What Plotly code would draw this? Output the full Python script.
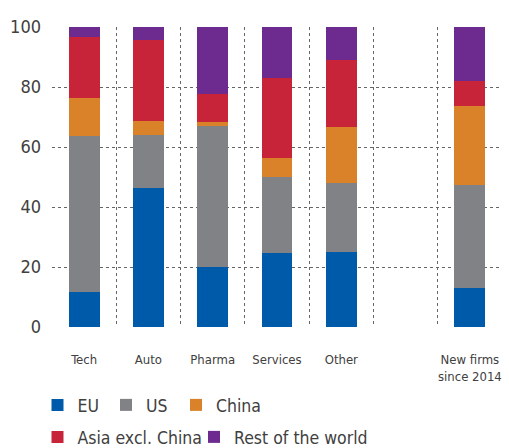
import plotly.graph_objects as go

categories = ["Tech", "Auto", "Pharma", "Services", "Other", "", "New firms<br>since 2014"]
bar_pos = [0, 1, 2, 3, 4, 6]
eu = [11.8, 46.4, 20.1, 24.8, 25.1, 13.1]
us = [51.8, 17.7, 47.0, 25.3, 22.8, 34.3]
china = [12.7, 4.7, 1.3, 6.3, 18.9, 26.4]
asia = [20.3, 27.0, 9.4, 26.7, 22.3, 8.3]
row = [3.4, 4.2, 22.2, 16.9, 10.9, 17.9]
yticks = [0, 20, 40, 60, 80, 100]

series = [
    ("EU", eu, "#005AAA"),
    ("US", us, "#818286"),
    ("China", china, "#D98229"),
    ("Asia excl. China", asia, "#C7243A"),
    ("Rest of the world", row, "#6D2B8F"),
]
# legend placement (pixels in the 509x448 figure)
legend_pos = [(37.5, 405), (106, 405), (176, 405), (37.5, 437), (194, 437)]

FONT = "DejaVu Sans Condensed, Liberation Sans Narrow, sans-serif"

fig = go.Figure()
legend_layout = {}
for i, ((name, vals, col), (lx, ly)) in enumerate(zip(series, legend_pos)):
    key = "legend" if i == 0 else f"legend{i + 1}"
    fig.add_trace(go.Bar(x=bar_pos, y=vals, name=name,
                         marker=dict(color=col, line=dict(width=0)),
                         legend=key, width=0.48))
    legend_layout[key] = dict(orientation="h", xref="container", yref="container",
                              x=lx / 509, y=1 - ly / 448, xanchor="left", yanchor="middle",
                              font=dict(size=17.5, color="#404040"), itemwidth=30,
                              bgcolor="rgba(0,0,0,0)")

fig.update_layout(
    barmode="stack",
    width=509, height=448,
    margin=dict(l=52, r=7, t=27, b=121, autoexpand=False),
    paper_bgcolor="white", plot_bgcolor="white",
    font=dict(family=FONT, color="#404040"),
    xaxis=dict(
        range=[-0.5, 6.5],
        tickvals=list(range(7)), ticktext=categories,
        tickfont=dict(size=13, color="#404040"),
        showgrid=False, zeroline=False, showline=False, ticks="",
        ticklabelstandoff=23,
        minor=dict(tickvals=[i - 0.5 for i in range(8)], showgrid=True,
                   gridcolor="#666666", griddash="dot", gridwidth=1),
    ),
    yaxis=dict(
        range=[0, 100], tickvals=yticks,
        tickfont=dict(size=18, color="#404040"),
        showgrid=True, gridcolor="#666666", griddash="dot", gridwidth=1,
        zeroline=False, showline=False, ticks="", ticklabelstandoff=10,
    ),
    showlegend=True,
    **legend_layout,
)

fig.write_html("out.html", config={"displayModeBar": False},
               post_script="document.body.style.margin='0';document.body.style.overflow='hidden';")
